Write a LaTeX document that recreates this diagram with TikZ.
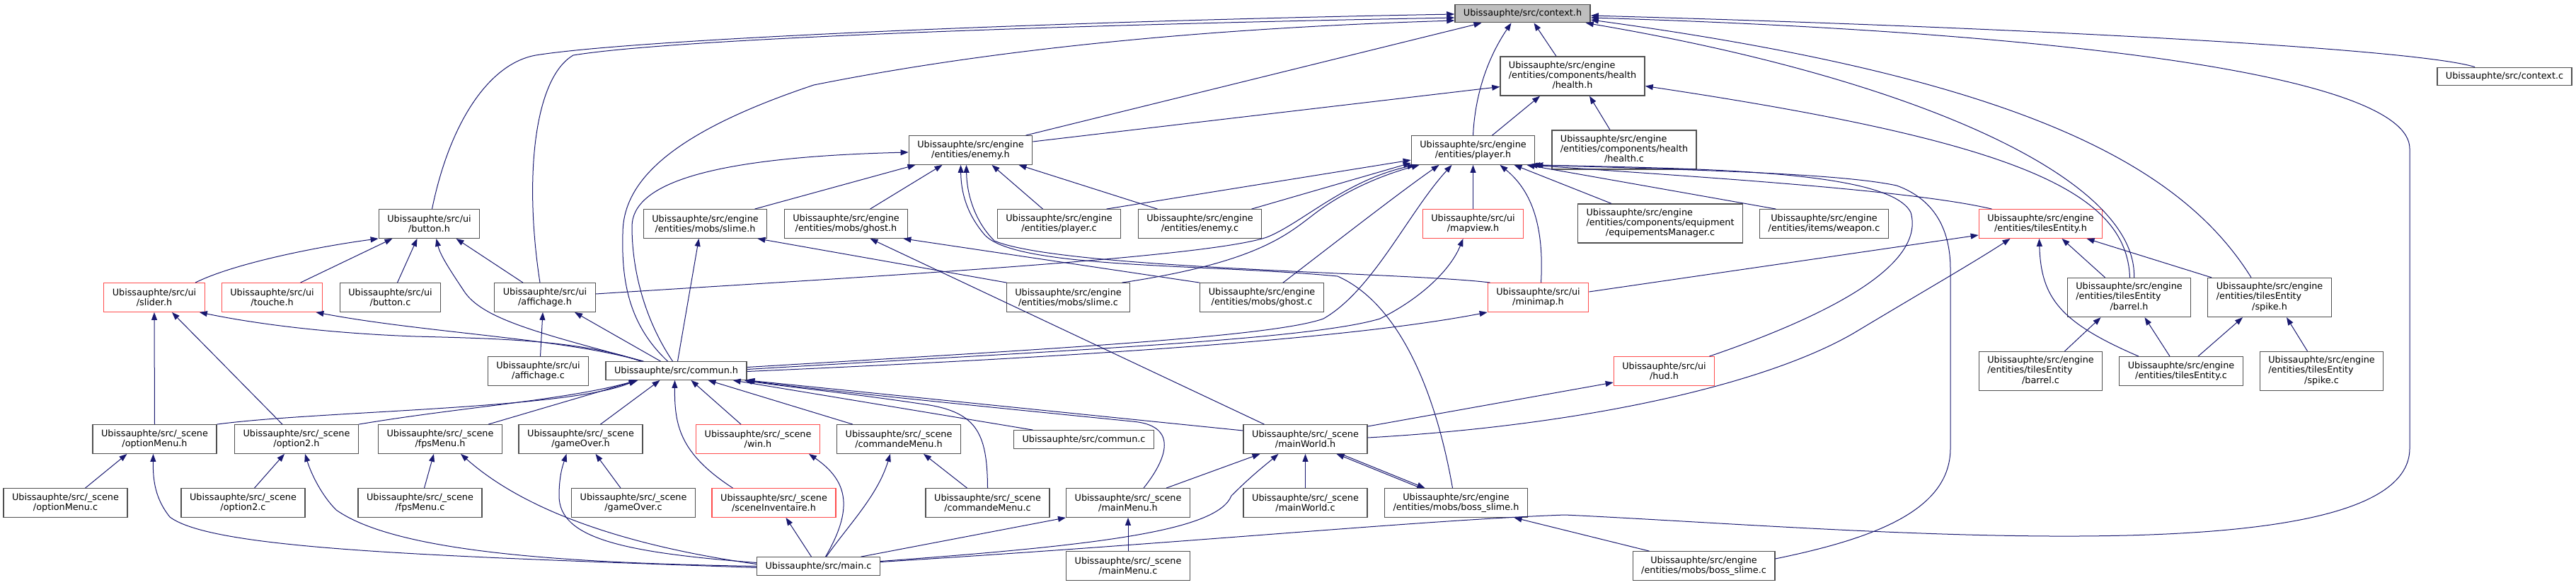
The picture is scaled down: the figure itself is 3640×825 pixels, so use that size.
\documentclass[tikz,border=0pt]{standalone}
\usepackage{fontspec}
\setmainfont{DejaVu Sans}
\usepackage{xcolor}
\usepackage{tikz}
\usetikzlibrary{arrows.meta}
\definecolor{edgeblue}{HTML}{191970}
\definecolor{boxgray}{HTML}{505050}
\definecolor{cutred}{HTML}{FF4D4D}
\definecolor{rootfill}{HTML}{BFBFBF}
\newcommand{\boxfont}{\fontsize{12.8}{14.3}\selectfont}
\newcommand{\tripath}[3]{\begin{tabular}{@{}l@{}}#1\\#2\\\multicolumn{1}{@{}c@{}}{#3}\end{tabular}}

\begin{document}
\begin{tikzpicture}[x=1pt, y=-1pt,
  filebox/.style={draw=boxgray, line width=1.3pt, fill=white, inner xsep=12pt, inner ysep=0pt, minimum height=40.5pt, align=center, font=\boxfont},
  onebox/.style={filebox, minimum height=25.5pt},
  threebox/.style={filebox, minimum height=55pt},
  cutbox/.style={filebox, draw=cutred},
  dep/.style={draw=edgeblue, line width=1pt, -{Triangle[length=11pt, width=8pt]}}
]
  \useasboundingbox (0,0) rectangle (3640,825);

  % Root
  \node[onebox, fill=rootfill] (ctxh) at (2151.5,19) {Ubissauphte/src/context.h};

  % Level 1
  \node[threebox] (healthh) at (2222,107.5) {\tripath{Ubissauphte/src/engine}{/entities/components/health}{/health.h}};
  \node[onebox] (ctxc) at (3539,108) {Ubissauphte/src/context.c};

  % Level 2
  \node[filebox] (enemyh) at (1371.5,212) {Ubissauphte/src/engine\\/entities/enemy.h};
  \node[filebox] (playerh) at (2081.5,212) {Ubissauphte/src/engine\\/entities/player.h};
  \node[threebox] (healthc) at (2295,211.5) {\tripath{Ubissauphte/src/engine}{/entities/components/health}{/health.c}};

  % Level 3
  \node[filebox] (buttonh) at (606.5,316) {Ubissauphte/src/ui\\/button.h};
  \node[filebox] (slimeh) at (996.5,316) {Ubissauphte/src/engine\\/entities/mobs/slime.h};
  \node[filebox] (ghosth) at (1195.5,316) {Ubissauphte/src/engine\\/entities/mobs/ghost.h};
  \node[filebox] (playerc) at (1496.5,316) {Ubissauphte/src/engine\\/entities/player.c};
  \node[filebox] (enemyc) at (1695.5,316) {Ubissauphte/src/engine\\/entities/enemy.c};
  \node[cutbox] (mapviewh) at (2081.5,316) {Ubissauphte/src/ui\\/mapview.h};
  \node[threebox] (equipc) at (2346,315.5) {\tripath{Ubissauphte/src/engine}{/entities/components/equipment}{/equipementsManager.c}};
  \node[filebox] (weaponc) at (2577.5,316) {Ubissauphte/src/engine\\/entities/items/weapon.c};
  \node[cutbox] (tilesh) at (2883.5,316) {Ubissauphte/src/engine\\/entities/tilesEntity.h};

  % Level 4
  \node[cutbox] (sliderh) at (218,420) {Ubissauphte/src/ui\\/slider.h};
  \node[cutbox] (toucheh) at (384.5,420) {Ubissauphte/src/ui\\/touche.h};
  \node[filebox] (buttonc) at (551.5,420) {Ubissauphte/src/ui\\/button.c};
  \node[filebox] (affichh) at (770,420) {Ubissauphte/src/ui\\/affichage.h};
  \node[filebox] (slimec) at (1509.5,420) {Ubissauphte/src/engine\\/entities/mobs/slime.c};
  \node[filebox] (ghostc) at (1783,420) {Ubissauphte/src/engine\\/entities/mobs/ghost.c};
  \node[cutbox] (minimaph) at (2173.5,420) {Ubissauphte/src/ui\\/minimap.h};
  \node[threebox] (barrelh) at (3008.5,420) {\tripath{Ubissauphte/src/engine}{/entities/tilesEntity}{/barrel.h}};
  \node[threebox] (spikeh) at (3207,420) {\tripath{Ubissauphte/src/engine}{/entities/tilesEntity}{/spike.h}};

  % Level 5
  \node[filebox] (affichc) at (760.5,524) {Ubissauphte/src/ui\\/affichage.c};
  \node[onebox] (communh) at (955.5,523.5) {Ubissauphte/src/commun.h};
  \node[cutbox] (hudh) at (2351.5,524) {Ubissauphte/src/ui\\/hud.h};
  \node[threebox] (barrelc) at (2883.5,524) {\tripath{Ubissauphte/src/engine}{/entities/tilesEntity}{/barrel.c}};
  \node[filebox] (tilesc) at (3082,524) {Ubissauphte/src/engine\\/entities/tilesEntity.c};
  \node[threebox] (spikec) at (3280.5,524) {\tripath{Ubissauphte/src/engine}{/entities/tilesEntity}{/spike.c}};

  % Level 6 - scene headers
  \node[filebox] (optmenuh) at (218.5,620) {Ubissauphte/src/\_scene\\/optionMenu.h};
  \node[filebox] (opt2h) at (419,620) {Ubissauphte/src/\_scene\\/option2.h};
  \node[filebox] (fpsh) at (622,620) {Ubissauphte/src/\_scene\\/fpsMenu.h};
  \node[filebox] (gameoverh) at (820.5,620) {Ubissauphte/src/\_scene\\/gameOver.h};
  \node[cutbox] (winh) at (1071,620) {Ubissauphte/src/\_scene\\/win.h};
  \node[filebox] (cmdmenuh) at (1270,620) {Ubissauphte/src/\_scene\\/commandeMenu.h};
  \node[onebox] (communc) at (1531.5,620.5) {Ubissauphte/src/commun.c};
  \node[filebox] (worldh) at (1844.5,620) {Ubissauphte/src/\_scene\\/mainWorld.h};

  % Level 7
  \node[filebox] (optmenuc) at (92.5,710) {Ubissauphte/src/\_scene\\/optionMenu.c};
  \node[filebox] (opt2c) at (343.5,710) {Ubissauphte/src/\_scene\\/option2.c};
  \node[filebox] (fpsc) at (593.5,710) {Ubissauphte/src/\_scene\\/fpsMenu.c};
  \node[filebox] (gameoverc) at (895,710) {Ubissauphte/src/\_scene\\/gameOver.c};
  \node[cutbox] (inventh) at (1093.5,710) {Ubissauphte/src/\_scene\\/sceneInventaire.h};
  \node[filebox] (cmdmenuc) at (1395.5,710) {Ubissauphte/src/\_scene\\/commandeMenu.c};
  \node[filebox] (menuh) at (1594,710) {Ubissauphte/src/\_scene\\/mainMenu.h};
  \node[filebox] (worldc) at (1844.5,710) {Ubissauphte/src/\_scene\\/mainWorld.c};
  \node[filebox] (bossh) at (2057.5,710) {Ubissauphte/src/engine\\/entities/mobs/boss\_slime.h};

  % Level 8
  \node[onebox] (mainc) at (1156.5,799.5) {Ubissauphte/src/main.c};
  \node[filebox] (menuc) at (1594,799) {Ubissauphte/src/\_scene\\/mainMenu.c};
  \node[filebox] (bossc) at (2407.5,799) {Ubissauphte/src/engine\\/entities/mobs/boss\_slime.c};

  % Arrows - context.h
  \draw[dep] ([xshift=-42pt]ctxc.north) .. controls (3420,70) and (2900,40) .. ([yshift=-3pt]ctxh.east);
  \draw[dep] ([yshift=6pt]mainc.east) .. controls (1700,765) and (2000,735) .. (2211,727) .. controls (2600,745) and (3405,820) .. (3405,633) -- (3405,210) .. controls (3405,105) and (2900,45) .. ([yshift=-6pt]ctxh.east);
  \draw[dep] ([xshift=-26pt]spikeh.north) .. controls (3080,230) and (2850,110) .. ([yshift=-9pt]ctxh.east);
  \draw[dep] ([xshift=7pt]barrelh.north) .. controls (3020,250) and (2700,110) .. ([xshift=-7pt]ctxh.south east);
  \draw[dep] ([xshift=-23pt]healthh.north) -- ([xshift=16pt]ctxh.south);
  \draw[dep] (playerh.north) .. controls (2085,120) and (2110,70) .. ([xshift=-16pt]ctxh.south);
  \draw[dep] ([xshift=-10pt]enemyh.north east) -- ([xshift=-58pt]ctxh.south);
  \draw[dep] ([xshift=4pt]buttonh.north) .. controls (635,175) and (690,90) .. (757,78) .. controls (900,55) and (1500,30) .. ([yshift=-1pt]ctxh.west);
  \draw[dep] ([xshift=-7pt]affichh.north) .. controls (740,250) and (755,110) .. (810,78) .. controls (950,55) and (1500,35) .. ([yshift=-6pt]ctxh.west);
  \draw[dep] ([xshift=-12pt]communh.north) .. controls (890,460) and (878,400) .. (880,330) .. controls (880,260) and (940,190) .. (1150,120) .. controls (1400,70) and (1700,40) .. ([yshift=-10pt]ctxh.west);

  % Arrows - health.h
  \draw[dep] ([yshift=12pt]enemyh.east) -- ([yshift=-15pt]healthh.west);
  \draw[dep] ([xshift=27pt]playerh.north) -- ([xshift=-46pt]healthh.south);
  \draw[dep] ([xshift=-20pt]healthc.north) -- ([xshift=24pt]healthh.south);
  \draw[dep] ([xshift=1pt]barrelh.north) .. controls (3005,270) and (2850,200) .. ([yshift=-14pt]healthh.east);

  % Arrows - enemy.h
  \draw[dep] ([xshift=70pt]slimeh.north) -- ([xshift=-78pt]enemyh.south);
  \draw[dep] ([xshift=34pt]ghosth.north) -- ([xshift=-40pt]enemyh.south);
  \draw[dep] ([xshift=-23pt]playerc.north) -- ([xshift=30pt]enemyh.south);
  \draw[dep] ([xshift=-60pt]enemyc.north) -- ([xshift=68pt]enemyh.south);
  \draw[dep] ([xshift=-5pt]communh.north) .. controls (910,450) and (893,380) .. (893,320) .. controls (893,260) and (1000,222) .. ([yshift=-3pt]enemyh.west);
  \draw[dep] ([xshift=-5pt]bossh.north) .. controls (2030,560) and (1980,430) .. (1890,390) .. controls (1700,372) and (1430,380) .. (1390,330) .. controls (1365,300) and (1358,270) .. ([xshift=-14pt]enemyh.south);
  \draw[dep] ([xshift=4pt]minimaph.north west) .. controls (2000,385) and (1500,380) .. (1405,340) .. controls (1375,310) and (1366,270) .. ([xshift=-6pt]enemyh.south);

  % Arrows - player.h
  \draw[dep] ([xshift=67pt]playerc.north) -- ([yshift=-14pt]playerh.west);
  \draw[dep] ([xshift=73pt]enemyc.north) -- ([yshift=-18pt]playerh.west);
  \draw[dep] ([yshift=5pt]affichh.east) .. controls (1200,392) and (1700,365) .. (1790,335) .. controls (1840,315) and (1900,255) .. ([xshift=6pt]playerh.south west);
  \draw[dep] ([xshift=-12pt]slimec.north east) .. controls (1780,370) and (1820,330) .. (1860,300) .. controls (1900,270) and (1950,248) .. ([xshift=12pt]playerh.south west);
  \draw[dep] ([xshift=30pt]ghostc.north) .. controls (1890,340) and (1980,270) .. ([xshift=-48pt]playerh.south);
  \draw[dep] ([yshift=5pt]communh.east) .. controls (1500,492) and (1800,475) .. (1870,450) .. controls (1940,410) and (1990,300) .. ([xshift=-30pt]playerh.south);
  \draw[dep] (mapviewh.north) -- (playerh.south);
  \draw[dep] ([xshift=4pt]minimaph.north) .. controls (2182,320) and (2165,270) .. ([xshift=38pt]playerh.south);
  \draw[dep] ([xshift=-69pt]equipc.north) -- ([xshift=58pt]playerh.south);
  \draw[dep] ([xshift=-68pt]weaponc.north) -- ([xshift=-12pt]playerh.south east);
  \draw[dep] ([xshift=-69pt]tilesh.north) .. controls (2700,268) and (2400,250) .. ([xshift=-8pt]playerh.south east);
  \draw[dep] ([xshift=-8pt]hudh.north east) .. controls (2600,440) and (2720,370) .. (2700,300) .. controls (2670,240) and (2400,238) .. ([xshift=-4pt]playerh.south east);
  \draw[dep] ([yshift=10pt]bossc.east) .. controls (2650,760) and (2756,720) .. (2756,633) -- (2756,380) .. controls (2756,320) and (2730,280) .. (2680,262) .. controls (2600,245) and (2400,240) .. (playerh.south east);

  % Arrows - button.h
  \draw[dep] ([xshift=58pt]sliderh.north) .. controls (330,372) and (450,348) .. (buttonh.south west);
  \draw[dep] ([xshift=40pt]toucheh.north) -- ([xshift=-52pt]buttonh.south);
  \draw[dep] ([xshift=10pt]buttonc.north) -- ([xshift=-17pt]buttonh.south);
  \draw[dep] ([xshift=-46pt]communh.north) .. controls (760,470) and (680,450) .. (655,410) .. controls (635,380) and (622,360) .. ([xshift=10pt]buttonh.south);
  \draw[dep] ([xshift=-31pt]affichh.north) -- ([xshift=38pt]buttonh.south);

  % Arrows - slider.h, touche.h, affichage.h
  \draw[dep] (optmenuh.north) -- (sliderh.south);
  \draw[dep] ([xshift=-20pt]opt2h.north) -- ([xshift=25pt]sliderh.south);
  \draw[dep] ([xshift=-50pt]communh.north) .. controls (820,480) and (700,478) .. (587,475) .. controls (450,470) and (350,455) .. ([xshift=-8pt]sliderh.south east);
  \draw[dep] ([xshift=-48pt]communh.north) .. controls (800,478) and (600,470) .. ([xshift=-10pt]toucheh.south east);
  \draw[dep] ([xshift=3pt]affichc.north) -- ([xshift=-3pt]affichh.south);
  \draw[dep] ([xshift=-22pt]communh.north) -- ([xshift=42pt]affichh.south);

  % Arrows - mobs
  \draw[dep] ([xshift=2pt]communh.north) -- ([xshift=-9pt]slimeh.south);
  \draw[dep] ([xshift=1pt]slimec.north west) -- ([xshift=-14pt]slimeh.south east);
  \draw[dep] (ghostc.north west) -- ([xshift=-7pt]ghosth.south east);
  \draw[dep] ([xshift=-58pt]worldh.north) -- ([xshift=34pt]ghosth.south);

  % Arrows - mapview.h, minimap.h
  \draw[dep] ([yshift=2pt]communh.east) .. controls (1500,495) and (1850,480) .. (1950,450) .. controls (2010,420) and (2050,380) .. ([xshift=-14pt]mapviewh.south);
  \draw[dep] ([yshift=-1pt]communh.east) .. controls (1500,505) and (1900,480) .. (minimaph.south west);

  % Arrows - tilesEntity
  \draw[dep] ([yshift=8pt]minimaph.east) -- ([yshift=-16pt]tilesh.west);
  \draw[dep] ([yshift=2pt]worldh.east) .. controls (2250,600) and (2500,540) .. (2620,470) .. controls (2720,410) and (2790,370) .. ([xshift=-43pt]tilesh.south);
  \draw[dep] ([xshift=-60pt]tilesc.north) .. controls (2910,455) and (2884,420) .. ([xshift=-2pt]tilesh.south);
  \draw[dep] ([xshift=-34pt]barrelh.north) -- ([xshift=30pt]tilesh.south);
  \draw[dep] ([xshift=-82pt]spikeh.north) -- ([xshift=65pt]tilesh.south);
  \draw[dep] ([xshift=34pt]barrelc.north) -- ([xshift=-40pt]barrelh.south);
  \draw[dep] ([xshift=-16pt]tilesc.north) -- ([xshift=22pt]barrelh.south);
  \draw[dep] ([xshift=24pt]tilesc.north) -- ([xshift=-38pt]spikeh.south);
  \draw[dep] ([xshift=-20pt]spikec.north) -- ([xshift=24pt]spikeh.south);

  % Arrows - commun.h
  \draw[dep] (optmenuh.north east) .. controls (450,580) and (800,578) .. ([xshift=-56pt]communh.south);
  \draw[dep] (opt2h.north east) .. controls (650,575) and (800,565) .. ([xshift=-55pt]communh.south);
  \draw[dep] ([xshift=68pt]fpsh.north) -- ([xshift=-54pt]communh.south);
  \draw[dep] ([xshift=28pt]gameoverh.north) -- ([xshift=-23pt]communh.south);
  \draw[dep] ([xshift=-24pt]winh.north) -- ([xshift=21pt]communh.south);
  \draw[dep] ([xshift=-58pt]inventh.north) .. controls (960,640) and (953,600) .. ([xshift=-2pt]communh.south);
  \draw[dep] ([xshift=-65pt]cmdmenuh.north) -- ([xshift=45pt]communh.south);
  \draw[dep] (cmdmenuc.north) .. controls (1395,610) and (1380,580) .. (1300,570) .. controls (1200,555) and (1100,545) .. ([xshift=-4pt]communh.south east);
  \draw[dep] ([xshift=-72pt]communc.north) -- ([xshift=-20pt]communh.south east);
  \draw[dep] ([xshift=22pt]menuh.north) .. controls (1655,640) and (1660,600) .. (1600,595) .. controls (1400,575) and (1150,550) .. ([xshift=-2pt]communh.south east);
  \draw[dep] ([yshift=12pt]worldh.west) -- (communh.south east);

  % Arrows - scenes
  \draw[dep] ([xshift=28pt]optmenuc.north) -- ([xshift=-39pt]optmenuh.south);
  \draw[dep] ([yshift=-2pt]mainc.west) .. controls (600,785) and (300,775) .. (240,730) .. controls (220,705) and (216,680) .. ([xshift=-2pt]optmenuh.south);
  \draw[dep] ([xshift=16pt]opt2c.north) -- ([xshift=-17pt]opt2h.south);
  \draw[dep] (mainc.west) .. controls (800,795) and (560,780) .. (475,720) .. controls (455,700) and (440,670) .. ([xshift=12pt]opt2h.south);
  \draw[dep] ([xshift=6pt]fpsc.north) -- ([xshift=-9pt]fpsh.south);
  \draw[dep] ([yshift=3pt]mainc.west) .. controls (880,770) and (740,720) .. ([xshift=29pt]fpsh.south);
  \draw[dep] ([xshift=-18pt]gameoverc.north) -- ([xshift=21pt]gameoverh.south);
  \draw[dep] ([yshift=5pt]mainc.west) .. controls (880,780) and (790,760) .. (790,700) .. controls (790,670) and (796,655) .. ([xshift=-20pt]gameoverh.south);
  \draw[dep] ([xshift=10pt]mainc.north) .. controls (1205,720) and (1200,680) .. ([xshift=72pt]winh.south);
  \draw[dep] ([xshift=-10pt]mainc.north) -- ([xshift=17pt]inventh.south);
  \draw[dep] ([xshift=11pt]mainc.north) .. controls (1200,740) and (1240,700) .. ([xshift=-12pt]cmdmenuh.south);
  \draw[dep] ([xshift=-29pt]cmdmenuc.north) -- ([xshift=35pt]cmdmenuh.south);
  \draw[dep] ([xshift=60pt]mainc.north) -- (menuh.south west);
  \draw[dep] (menuc.north) -- (menuh.south);
  \draw[dep] ([yshift=7pt]mainc.east) .. controls (1550,770) and (1720,750) .. (1740,700) .. controls (1770,670) and (1790,655) .. ([xshift=-38pt]worldh.south);
  \draw[dep] ([xshift=54pt]menuh.north) -- ([xshift=-64pt]worldh.south);
  \draw[dep] (worldc.north) -- (worldh.south);
  \draw[dep] ([xshift=-50pt]bossh.north) -- ([xshift=44pt]worldh.south);
  \draw[dep] ([xshift=50pt]worldh.south) -- ([xshift=-44pt]bossh.north);
  \draw[dep] ([xshift=-77pt]bossc.north) -- ([xshift=82pt]bossh.south);
  \draw[dep] ([yshift=18pt]worldh.east) -- ([yshift=-16pt]hudh.west);
\end{tikzpicture}
\end{document}
